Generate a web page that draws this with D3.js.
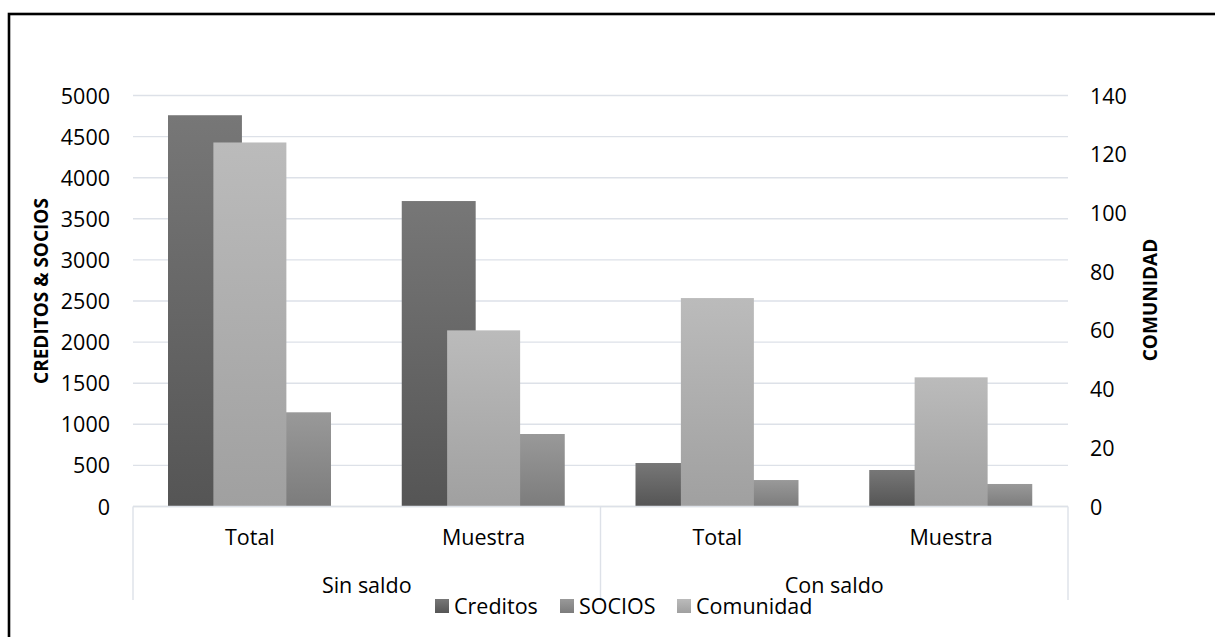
<!DOCTYPE html>
<html>
<head>
<meta charset="utf-8">
<script src="https://cdn.jsdelivr.net/npm/d3@7"></script>
<style>
    body { margin: 0; background: #fff; }
    text { font-family: "Open Sans", "Noto Sans", sans-serif; fill: #000; }
</style>
</head>
<body>
<div id="renderer"></div>
<script>
// datos
var groups = ['Sin saldo', 'Con saldo'];
var subCategories = ['Total', 'Muestra'];
var categories = ['Sin saldo|Total', 'Sin saldo|Muestra', 'Con saldo|Total', 'Con saldo|Muestra'];

var creditos = [4760, 3716, 529, 444];
var socios = [1146, 882, 322, 274];
var comunidad = [124, 60, 71, 44];

var leftTicks = [0, 500, 1000, 1500, 2000, 2500, 3000, 3500, 4000, 4500, 5000];
var rightTicks = [0, 20, 40, 60, 80, 100, 120, 140];

var legendNames = ['Creditos', 'SOCIOS', 'Comunidad'];

var width = 1215, height = 637;
var plot = { left: 133, right: 1068, top: 95.5, bottom: 506.5 };
var fontSize = '21.5px';

var root = d3.select('#renderer').append('svg')
    .attr('width', width)
    .attr('height', height);

// degradados por barra
var defs = root.append('defs');
makeGradient('gCreditos', '#777777', '#555555');
makeGradient('gSocios', '#999999', '#7c7c7c');
makeGradient('gComunidad', '#bbbbbb', '#a0a0a0');

function makeGradient(id, top, bottom) {
    var g = defs.append('linearGradient')
        .attr('id', id)
        .attr('x1', 0).attr('y1', 0)
        .attr('x2', 0).attr('y2', 1);
    g.append('stop').attr('offset', '0%').attr('stop-color', top);
    g.append('stop').attr('offset', '100%').attr('stop-color', bottom);
}

var x0 = d3.scaleBand()
    .domain(categories)
    .range([plot.left, plot.right])
    .paddingInner(0);

// posicion de las dos series del eje principal dentro de cada categoria
var x1 = d3.scaleBand()
    .domain(['Creditos', 'SOCIOS'])
    .range([35, 198])
    .paddingInner(0.17);

var yLeft = d3.scaleLinear().domain([0, 5000]).range([plot.bottom, plot.top]);
var yRight = d3.scaleLinear().domain([0, 140]).range([plot.bottom, plot.top]);

// lineas de division
root.append('g')
    .selectAll('line')
    .data(leftTicks)
    .enter().append('line')
    .attr('x1', plot.left)
    .attr('x2', plot.right)
    .attr('y1', function(d){ return yLeft(d); })
    .attr('y2', function(d){ return yLeft(d); })
    .attr('stroke', '#dde1e8')
    .attr('stroke-width', 1.4);

// ejes verticales con d3.axis, sin linea ni marcas
var axisL = root.append('g')
    .attr('transform', 'translate(' + (plot.left - 23) + ',0)')
    .call(d3.axisLeft(yLeft).tickValues(leftTicks).tickFormat(d3.format('d')).tickSize(0).tickPadding(0));
axisL.select('.domain').remove();
axisL.selectAll('text')
    .style('font-size', fontSize)
    .attr('dy', '0.35em')
    .attr('fill', '#000');

var axisR = root.append('g')
    .attr('transform', 'translate(' + (plot.right + 22) + ',0)')
    .call(d3.axisRight(yRight).tickValues(rightTicks).tickFormat(d3.format('d')).tickSize(0).tickPadding(0));
axisR.select('.domain').remove();
axisR.selectAll('text')
    .style('font-size', fontSize)
    .attr('dy', '0.35em')
    .attr('fill', '#000');

// barras del eje principal
var bars = root.append('g');
for (var i = 0; i < categories.length; i++) {
    var c = categories[i];
    drawBar(bars, x0(c) + x1('Creditos'), x1.bandwidth(), yLeft(creditos[i]), yLeft(0), 'url(#gCreditos)');
    drawBar(bars, x0(c) + x1('SOCIOS'), x1.bandwidth(), yLeft(socios[i]), yLeft(0), 'url(#gSocios)');
}

// barras del eje secundario, centradas en la categoria
var comWidth = 73;
for (var j = 0; j < categories.length; j++) {
    var cc = categories[j];
    drawBar(bars, x0(cc) + x0.bandwidth() / 2 - comWidth / 2, comWidth, yRight(comunidad[j]), yRight(0), 'url(#gComunidad)');
}

function drawBar(g, x, w, yTop, yBottom, fill) {
    return g.append('rect')
        .attr('x', x)
        .attr('y', yTop)
        .attr('width', w)
        .attr('height', yBottom - yTop)
        .attr('fill', fill);
}

// linea base del eje de categorias
root.append('line')
    .attr('x1', plot.left).attr('x2', plot.right)
    .attr('y1', plot.bottom).attr('y2', plot.bottom)
    .attr('stroke', '#dde1e8')
    .attr('stroke-width', 1.4);

// divisiones entre grupos
var groupEdges = [plot.left, x0(categories[2]), plot.right];
root.append('g')
    .selectAll('line')
    .data(groupEdges)
    .enter().append('line')
    .attr('x1', function(d){ return d; })
    .attr('x2', function(d){ return d; })
    .attr('y1', plot.bottom)
    .attr('y2', 600)
    .attr('stroke', '#dde1e8')
    .attr('stroke-width', 1.4);

// etiquetas de categorias
root.append('g')
    .selectAll('text')
    .data(categories)
    .enter().append('text')
    .attr('x', function(d){ return x0(d) + x0.bandwidth() / 2; })
    .attr('y', 537)
    .attr('dy', '0.35em')
    .attr('text-anchor', 'middle')
    .style('font-size', fontSize)
    .text(function(d){ return d.split('|')[1]; });

root.append('g')
    .selectAll('text')
    .data(groups)
    .enter().append('text')
    .attr('x', function(d, k){ return x0(categories[k * 2]) + x0.bandwidth(); })
    .attr('y', 585)
    .attr('dy', '0.35em')
    .attr('text-anchor', 'middle')
    .style('font-size', fontSize)
    .text(function(d){ return d; });

// titulos de ejes
root.append('text')
    .attr('transform', 'translate(41,291) rotate(-90)')
    .attr('text-anchor', 'middle')
    .attr('dy', '0.35em')
    .style('font-size', '19px')
    .style('font-weight', 'bold')
    .text('CREDITOS & SOCIOS');

root.append('text')
    .attr('transform', 'translate(1150,300) rotate(-90)')
    .attr('text-anchor', 'middle')
    .attr('dy', '0.35em')
    .style('font-size', '19px')
    .style('font-weight', 'bold')
    .text('COMUNIDAD');

// leyenda
var legendX = [435, 560, 677];
var legendFill = ['url(#gCreditos)', 'url(#gSocios)', 'url(#gComunidad)'];
var legend = root.append('g')
    .selectAll('g')
    .data(legendNames)
    .enter().append('g')
    .attr('transform', function(d, k){ return 'translate(' + legendX[k] + ',599)'; });
legend.append('rect')
    .attr('width', 14)
    .attr('height', 14)
    .attr('fill', function(d, k){ return legendFill[k]; });
legend.append('text')
    .attr('x', 19)
    .attr('y', 7)
    .attr('dy', '0.35em')
    .style('font-size', fontSize)
    .text(function(d){ return d; });

// marco del grafico
root.append('rect')
    .attr('x', 9)
    .attr('y', 14)
    .attr('width', width + 20)
    .attr('height', height + 20)
    .attr('fill', 'none')
    .attr('stroke', '#000')
    .attr('stroke-width', 2.6);
</script>
</body>
</html>
